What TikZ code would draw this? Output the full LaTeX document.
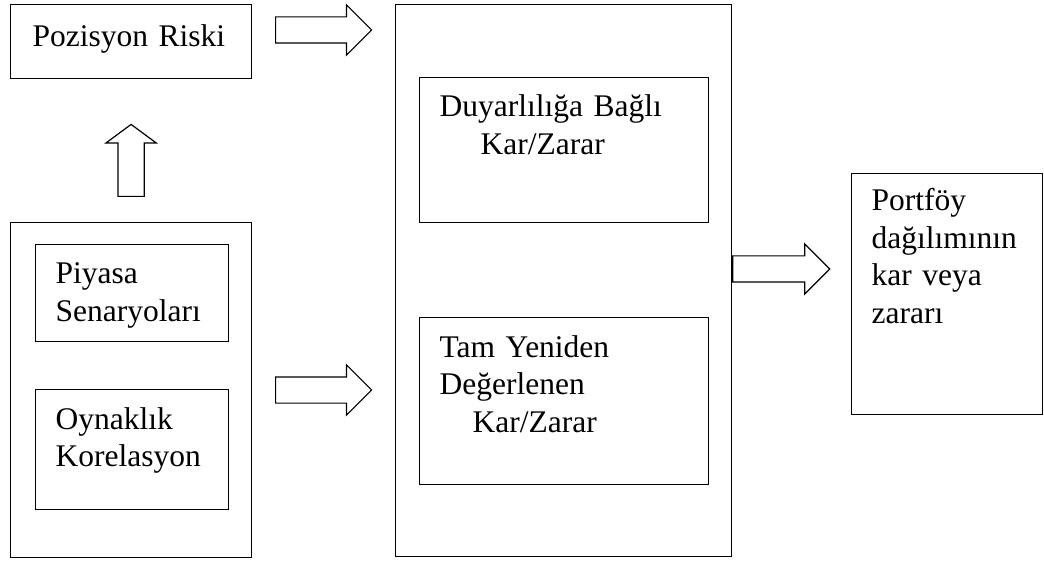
\documentclass[tikz,border=0pt]{standalone}
\usepackage{fontspec}
\setmainfont{Liberation Serif}
\usetikzlibrary{shapes.arrows}
\begin{document}
\begin{tikzpicture}[x=1pt,y=-1pt,line width=1.2pt,
  kutu/.style={draw,rectangle,inner sep=0,anchor=north west},
  yazi/.style={anchor=base west,inner sep=0,text width=260pt,font=\fontsize{31.5}{37.5}\selectfont},
  okbos/.style={draw,single arrow,inner xsep=0,inner ysep=12.5,single arrow head extend=12,anchor=tail}]
\useasboundingbox (0,0) rectangle (1044,561);

\node[kutu,minimum width=241,minimum height=74] (risk) at (10,4) {};
\node[kutu,minimum width=241,minimum height=335] (girdi) at (10,222) {};
\node[kutu,minimum width=193,minimum height=97] (piyasa) at (35,244) {};
\node[kutu,minimum width=193,minimum height=120] (oynak) at (35,389) {};
\node[kutu,minimum width=336,minimum height=552] (orta) at (395,4) {};
\node[kutu,minimum width=289,minimum height=145] (duyar) at (419,77) {};
\node[kutu,minimum width=289,minimum height=167] (tam) at (419,317) {};
\node[kutu,minimum width=191,minimum height=241] (portfoy) at (851,173) {};

\node[yazi] (riskYazi) at (32,47) {Pozisyon Riski};
\node[yazi] (piyasaYazi) at (55,284) {Piyasa\\Senaryoları};
\node[yazi] (oynakYazi) at (55,429) {Oynaklık\\Korelasyon};
\node[yazi] (duyarYazi) at (439,117) {Duyarlılığa Bağlı\\\hspace*{41pt}Kar/Zarar};
\node[yazi] (tamYazi) at (439,357) {Tam Yeniden\\Değerlenen\\\hspace*{33pt}Kar/Zarar};
\node[yazi] (portfoyYazi) at (871,211) {Portföy\\dağılımının\\kar veya\\zararı};

\node[okbos,minimum height=96] (okRisk) at (275,30) {};
\node[okbos,minimum height=96] (okGirdi) at (275,390) {};
\node[okbos,minimum height=97] (okSonuc) at (orta.east |- 0,269) {};
\node[okbos,minimum height=72,rotate=90,single arrow tip angle=107] (okYukari) at (girdi.north |- 0,197) {};

\end{tikzpicture}
\end{document}
